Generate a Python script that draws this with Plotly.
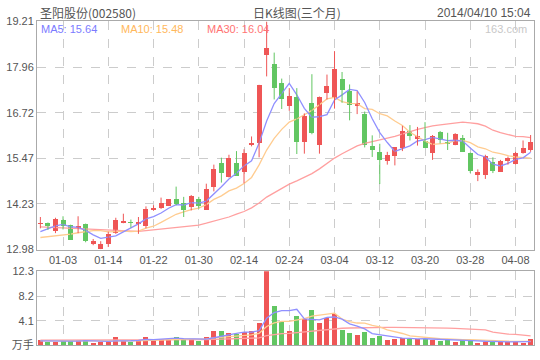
import plotly.graph_objects as go

dates = ["12-30", "12-31", "01-02", "01-03", "01-06", "01-07", "01-08", "01-09", "01-13", "01-14",
         "01-15", "01-16", "01-17", "01-20", "01-21", "01-22", "01-23", "01-24", "01-27", "01-28",
         "01-29", "01-30", "02-07", "02-10", "02-11", "02-12", "02-13", "02-14", "02-17", "02-18",
         "02-19", "02-20", "02-21", "02-24", "02-25", "02-26", "02-27", "02-28", "03-03", "03-04",
         "03-05", "03-06", "03-07", "03-10", "03-11", "03-12", "03-13", "03-14", "03-17", "03-18",
         "03-19", "03-20", "03-21", "03-24", "03-25", "03-26", "03-27", "03-28", "03-31", "04-01",
         "04-02", "04-03", "04-04", "04-08", "04-09", "04-10"]

opens = [13.67, 13.71, 13.49, 13.80, 13.66, 13.58, 13.69, 13.12, 12.99, 13.12,
         13.43, 13.70, 13.72, 13.67, 13.62, 14.05, 14.12, 14.18, 14.35, 14.25,
         14.15, 14.35, 14.07, 14.68, 15.34, 14.95, 15.34, 15.10, 15.84, 15.89,
         18.29, 18.05, 17.52, 16.91, 17.15, 15.91, 16.99, 15.85, 17.26, 17.12,
         17.63, 17.32, 16.91, 16.68, 15.80, 15.65, 15.39, 15.54, 15.76, 16.22,
         16.01, 15.95, 15.63, 16.20, 15.92, 15.83, 16.04, 15.63, 15.03, 15.01,
         15.38, 15.10, 15.39, 15.32, 15.63, 15.70]
highs = [13.87, 13.72, 13.85, 13.89, 13.66, 13.89, 13.69, 13.27, 13.21, 13.47,
         13.85, 13.96, 13.80, 13.87, 14.16, 14.19, 14.40, 14.35, 14.70, 14.42,
         14.47, 14.42, 14.78, 15.30, 15.49, 15.57, 15.67, 15.72, 16.07, 17.48,
         19.21, 18.36, 17.65, 17.39, 17.39, 16.70, 17.77, 17.16, 17.76, 18.40,
         17.83, 17.49, 17.30, 16.75, 16.10, 15.87, 15.65, 15.78, 16.36, 16.38,
         16.33, 16.46, 16.11, 16.22, 16.17, 16.16, 16.11, 15.63, 15.17, 15.57,
         15.50, 15.43, 15.52, 15.65, 15.96, 16.11]
lows = [13.56, 13.52, 13.43, 13.53, 13.25, 13.43, 13.18, 13.10, 12.99, 13.05,
        13.41, 13.70, 13.58, 13.41, 13.56, 14.04, 14.09, 14.17, 14.19, 13.87,
        14.05, 14.10, 14.07, 14.57, 14.81, 14.95, 14.99, 14.79, 15.80, 15.50,
        17.71, 17.08, 16.82, 16.77, 15.59, 15.60, 16.13, 15.60, 17.08, 16.83,
        16.99, 16.51, 16.68, 15.77, 15.51, 14.77, 15.30, 15.28, 15.67, 15.96,
        15.82, 15.76, 15.43, 15.88, 15.70, 15.83, 15.65, 15.07, 14.85, 14.91,
        15.07, 15.10, 15.30, 15.30, 15.60, 15.65]
closes = [13.71, 13.63, 13.81, 13.62, 13.25, 13.63, 13.21, 13.21, 13.14, 13.41,
          13.80, 13.76, 13.70, 13.74, 14.09, 14.12, 14.25, 14.35, 14.22, 14.05,
          14.44, 14.18, 14.64, 15.17, 15.06, 15.48, 14.99, 15.63, 15.86, 17.48,
          18.49, 17.39, 17.08, 17.17, 15.91, 16.64, 16.17, 17.16, 17.45, 17.92,
          17.33, 16.92, 16.99, 15.83, 15.70, 15.43, 15.57, 15.78, 16.22, 16.07,
          16.09, 15.76, 16.09, 15.98, 15.87, 16.13, 15.65, 15.14, 15.09, 15.54,
          15.14, 15.41, 15.49, 15.63, 15.76, 15.91]
volumes = [0.81, 0.49, 0.60, 0.76, 0.76, 0.92, 0.92, 0.32, 0.54, 0.60,
           1.30, 0.76, 0.60, 0.76, 1.46, 1.08, 1.08, 1.08, 1.30, 0.97,
           0.97, 0.65, 1.30, 2.38, 2.38, 2.05, 1.89, 2.22, 2.38, 3.73,
           12.3, 6.59, 3.89, 2.38, 4.81, 4.32, 5.94, 3.67, 4.48, 5.13,
           2.54, 2.05, 1.73, 2.22, 1.25, 1.57, 0.92, 1.08, 1.14, 1.08,
           1.08, 1.08, 0.92, 0.76, 0.92, 0.60, 0.92, 0.81, 0.43, 0.60,
           0.76, 0.49, 0.49, 0.60, 0.43, 1.08]

# moving-average values before a full window is available
ma5_head = [13.47, 13.56, 13.63, 13.67]
ma10_head = [13.31, 13.33, 13.35, 13.37, 13.40, 13.44, 13.47, 13.50, 13.50]
ma30_head = [13.60, 13.59, 13.58, 13.57, 13.57, 13.56, 13.55, 13.54, 13.52, 13.50,
             13.49, 13.48, 13.48, 13.48, 13.50, 13.52, 13.54, 13.56, 13.58, 13.61,
             13.63, 13.65, 13.70, 13.75, 13.81, 13.87, 13.95, 14.02, 14.12]
vma5_head = [0.72, 0.68, 0.65, 0.66]
vma10_head = [0.75, 0.74, 0.73, 0.72, 0.72, 0.73, 0.74, 0.72, 0.70]
vma30_head = [0.85, 0.85, 0.84, 0.84, 0.83, 0.83, 0.83, 0.82, 0.82, 0.82,
              0.83, 0.83, 0.83, 0.84, 0.85, 0.86, 0.87, 0.88, 0.89, 0.90,
              0.91, 0.92, 0.94, 0.98, 1.02, 1.06, 1.10, 1.14, 1.19]

tick_dates = ["01-03", "01-14", "01-22", "01-30", "02-14", "02-24", "03-04",
              "03-12", "03-20", "03-28", "04-08"]
price_ticks = [12.98, 14.23, 15.47, 16.72, 17.96, 19.21]
vol_ticks = [0, 4.1, 8.2, 12.3]
vol_tick_text = ["万手", "4.1", "8.2", "12.3"]

title_left = "圣阳股份(002580)"
title_mid = "日K线图(三个月)"
title_right = "2014/04/10 15:04"
watermark = "163.com"


def moving_average(vals, n, head):
    out = list(head)
    for i in range(n - 1, len(vals)):
        out.append(sum(vals[i - n + 1:i + 1]) / n)
    return out


ma5 = moving_average(closes, 5, ma5_head)
ma10 = moving_average(closes, 10, ma10_head)
ma30 = moving_average(closes, 30, ma30_head)
vma5 = moving_average(volumes, 5, vma5_head)
vma10 = moving_average(volumes, 10, vma10_head)
vma30 = moving_average(volumes, 30, vma30_head)

RED = "#ef5656"
GREEN = "#62c662"
C5 = "#9090ff"
C10 = "#ffcc90"
C30 = "#ffa0a0"
GRID = "#cccccc"
FRAME = "#aaaaaa"
TXT = "#555555"
FONT = "Liberation Sans, Noto Sans CJK SC"

n = len(dates)
idx = list(range(n))
up = [closes[i] >= opens[i] for i in idx]
colors = [RED if u else GREEN for u in up]

fig = go.Figure()

# MA lines (price)
for vals, col in ((ma30, C30), (ma10, C10), (ma5, C5)):
    fig.add_trace(go.Scatter(x=idx, y=vals, mode="lines", line=dict(color=col, width=1.3),
                             hoverinfo="skip", xaxis="x", yaxis="y"))

# wicks
for flag, col in ((True, RED), (False, GREEN)):
    wx, wy = [], []
    for i in idx:
        if up[i] == flag:
            wx += [i, i, None]
            wy += [lows[i], highs[i], None]
    fig.add_trace(go.Scatter(x=wx, y=wy, mode="lines", line=dict(color=col, width=1),
                             hoverinfo="skip", xaxis="x", yaxis="y"))

# candle bodies
body_base = [min(opens[i], closes[i]) for i in idx]
body_h = [max(abs(closes[i] - opens[i]), 0.04) for i in idx]
fig.add_trace(go.Bar(x=idx, y=body_h, base=body_base, width=0.66,
                     marker=dict(color=colors, line=dict(width=0)),
                     xaxis="x", yaxis="y"))

# volume bars
fig.add_trace(go.Bar(x=idx, y=volumes, width=0.66,
                     marker=dict(color=colors, line=dict(width=0)),
                     xaxis="x2", yaxis="y2"))
for vals, col in ((vma30, C30), (vma10, C10), (vma5, C5)):
    fig.add_trace(go.Scatter(x=idx, y=vals, mode="lines", line=dict(color=col, width=1.3),
                             hoverinfo="skip", xaxis="x2", yaxis="y2"))

W, H = 540, 360
xdom = [37 / W, 534 / W]
tickvals_x = [dates.index(d) for d in tick_dates]

axis_common = dict(showline=True, mirror=True, linecolor=FRAME, linewidth=1,
                   showgrid=True, gridcolor=GRID, griddash="dash", gridwidth=1,
                   zeroline=False, ticks="", tickfont=dict(family=FONT, size=11, color=TXT))

fig.update_layout(
    width=W, height=H, margin=dict(l=0, r=0, t=0, b=0),
    paper_bgcolor="white", plot_bgcolor="white", showlegend=False,
    barmode="overlay", bargap=0, hovermode=False,
    xaxis=dict(domain=xdom, range=[-0.45, n - 0.55], tickmode="array",
               tickvals=tickvals_x, ticktext=tick_dates, anchor="y", **axis_common),
    yaxis=dict(domain=[(H - 252) / H, (H - 16) / H], range=[price_ticks[0], price_ticks[-1]],
               tickmode="array", tickvals=price_ticks,
               ticktext=[f"{v:.2f}" for v in price_ticks], anchor="x", **axis_common),
    xaxis2=dict(domain=xdom, matches="x", tickmode="array", tickvals=tickvals_x,
                showticklabels=False, anchor="y2", **axis_common),
    yaxis2=dict(domain=[(H - 351) / H, (H - 274.5) / H], range=[0, vol_ticks[-1]],
                tickmode="array", tickvals=vol_ticks, ticktext=vol_tick_text,
                anchor="x2", **axis_common),
)


def ann(text, x, y, color, size=11, xanchor="left", family=FONT):
    fig.add_annotation(text=text, x=x / W, y=1 - y / H, xref="paper", yref="paper",
                       xanchor=xanchor, yanchor="middle", showarrow=False,
                       font=dict(family=family, size=size, color=color))


ann(title_left, 38, 7, TXT, size=12, family="Noto Sans CJK SC, Liberation Sans")
ann(title_mid, 297, 7, TXT, size=12, xanchor="center", family="Noto Sans CJK SC, Liberation Sans")
ann(title_right, 533, 7, TXT, size=12, xanchor="right")
ann(f"MA5: {ma5[-1]:.2f}", 39, 24, "#7b7bff")
ann(f"MA10: {ma10[-1]:.2f}", 119, 24, "#ffb85c")
ann(f"MA30: {ma30[-1]:.2f}", 205, 24, "#ff7373")
ann(watermark, 529, 24, "#c8c8c8", xanchor="right")

fig.write_html("out.html", config={"displayModeBar": False, "staticPlot": True},
               post_script="document.body.style.margin='0';document.body.style.overflow='hidden';")
